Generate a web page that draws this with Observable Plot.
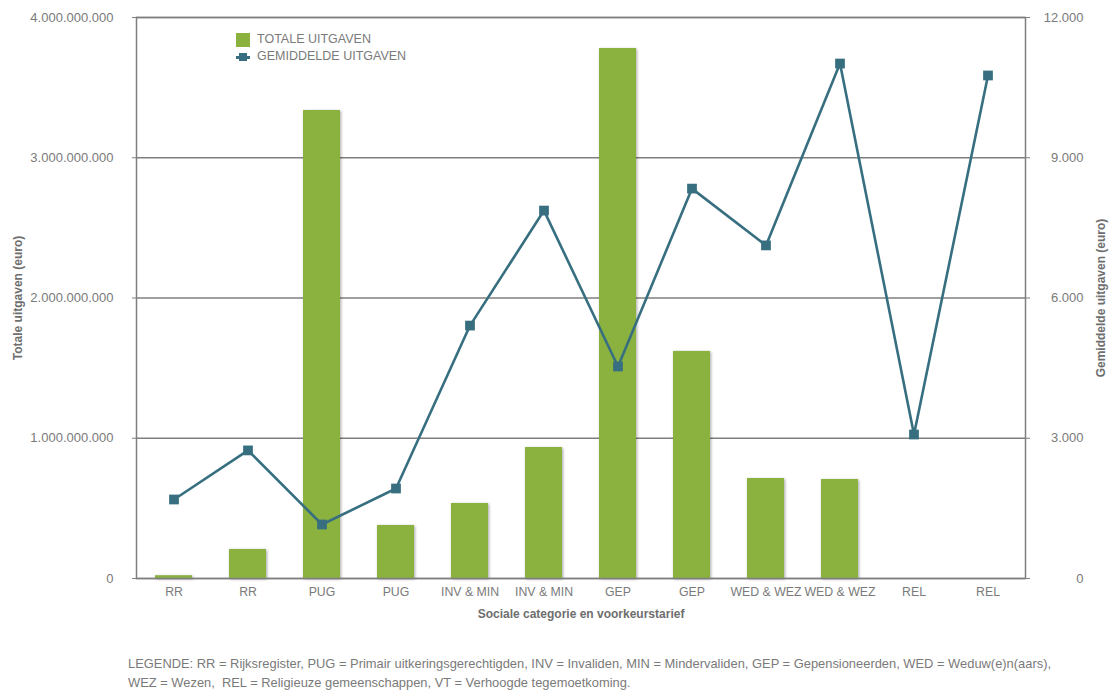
<!DOCTYPE html>
<html>
<head>
<meta charset="utf-8">
<script src="https://cdn.jsdelivr.net/npm/d3@7"></script>
<script src="https://cdn.jsdelivr.net/npm/@observablehq/plot@0.6"></script>
<style>
  body { margin: 0; background: #fff; font-family: "Liberation Sans", Arial, sans-serif; }
  #wrap { position: relative; width: 1113px; height: 692px; }
  #legend { position: absolute; left: 236px; top: 31px; font-size: 12.5px; color: #7a7a7a; line-height: 17px; }
  .li { display: flex; align-items: center; height: 17px; }
  .sw { width: 14px; height: 14px; margin-right: 7px; display: inline-block; position: relative; }
  #caption { position: absolute; left: 128px; top: 654px; font-size: 12.9px; color: #7a7a7a; line-height: 19px; }
</style>
</head>
<body>
<div id="wrap">
  <div id="chart"></div>
  <div id="legend">
    <div class="li"><span class="sw" style="background:#8bb13f"></span>TOTALE UITGAVEN</div>
    <div class="li"><span class="sw"><span style="position:absolute;left:0;top:6px;width:14px;height:3px;background:#376f80"></span><span style="position:absolute;left:3px;top:3px;width:8px;height:8px;background:#376f80"></span></span>GEMIDDELDE UITGAVEN</div>
  </div>
  <div id="caption">LEGENDE: RR = Rijksregister, PUG = Primair uitkeringsgerechtigden, INV = Invaliden, MIN = Mindervaliden, GEP = Gepensioneerden, WED = Weduw(e)n(aars),<br>WEZ = Wezen,&nbsp; REL = Religieuze gemeenschappen, VT = Verhoogde tegemoetkoming.</div>
</div>
<script>
const categories = ["RR","RR","PUG","PUG","INV & MIN","INV & MIN","GEP","GEP","WED & WEZ","WED & WEZ","REL","REL"];
const totaleUitgaven = [20000000, 207000000, 3337000000, 378000000, 535000000, 934000000, 3779000000, 1619000000, 713000000, 706000000, 0, 0];
const gemiddeldeUitgaven = [1690, 2740, 1155, 1925, 5410, 7870, 4535, 8340, 7125, 11015, 3080, 10760];
const leftTicks = [0, 1000000000, 2000000000, 3000000000, 4000000000];
const rightTicks = [0, 3000, 6000, 9000, 12000];

const leftMax = 4000000000, rightMax = 12000;
const toLeft = v => v / rightMax * leftMax;

const nl = d3.formatLocale({decimal: ",", thousands: ".", grouping: [3], currency: ["€", ""]});
const fmt = nl.format(",.0f");

const data = categories.map((c, i) => ({i, c, tot: totaleUitgaven[i], gem: gemiddeldeUitgaven[i]}));

const grey = "#7f7f7f";
const textGrey = "#7a7a7a";
const green = "#8bb13f";
const teal = "#376f80";

const plot = Plot.plot({
  width: 1113,
  height: 640,
  marginTop: 17,
  marginBottom: 62,
  marginLeft: 136,
  marginRight: 88,
  style: {fontFamily: "'Liberation Sans', Arial, sans-serif", fontSize: "12px", color: textGrey, background: "white"},
  x: {type: "band", domain: d3.range(categories.length), paddingInner: 0.5, paddingOuter: 0.25},
  y: {domain: [0, leftMax]},
  marks: [
    Plot.gridY(leftTicks, {stroke: grey, strokeOpacity: 1, strokeWidth: 1.5}),
    Plot.barY(data, {x: "i", y: "tot", fill: green, className: "bars"}),
    Plot.frame({stroke: grey, strokeWidth: 1.5}),
    Plot.axisY({anchor: "left", ticks: leftTicks, tickFormat: fmt, tickSize: 4, tickPadding: 19, stroke: grey, fill: textGrey, fontSize: 13, label: null}),
    Plot.axisY({anchor: "right", ticks: leftTicks, tickFormat: () => "", tickSize: 4, stroke: grey, label: null}),
    Plot.text(rightTicks, {y: d => toLeft(d), text: d => fmt(d), frameAnchor: "right", dx: 58, textAnchor: "end", fill: textGrey, fontSize: 13}),
    Plot.axisX({tickSize: 0, tickPadding: 9, tickFormat: i => categories[i], fill: textGrey, fontSize: 12.3, label: null}),
    Plot.line(data, {x: "i", y: d => toLeft(d.gem), stroke: teal, strokeWidth: 2.6}),
    Plot.dot(data, {x: "i", y: d => toLeft(d.gem), symbol: "square", r: 5.5, fill: teal, stroke: null}),
    Plot.text(["Totale uitgaven (euro)"], {frameAnchor: "left", textAnchor: "middle", dx: -118, rotate: -90, text: d => d, fontWeight: "bold", fill: "#6e6e6e"}),
    Plot.text(["Gemiddelde uitgaven (euro)"], {frameAnchor: "right", textAnchor: "middle", dx: 76, rotate: -90, text: d => d, fontWeight: "bold", fill: "#6e6e6e"}),
    Plot.text(["Sociale categorie en voorkeurstarief"], {frameAnchor: "bottom", dy: 39, text: d => d, fontWeight: "bold", fill: "#6e6e6e"})
  ]
});
document.getElementById("chart").appendChild(plot);
d3.select(plot).selectAll("g.bars rect, .bars rect").style("filter", "drop-shadow(1px 1px 1.5px rgba(0,0,0,0.35))");
</script>
</body>
</html>
